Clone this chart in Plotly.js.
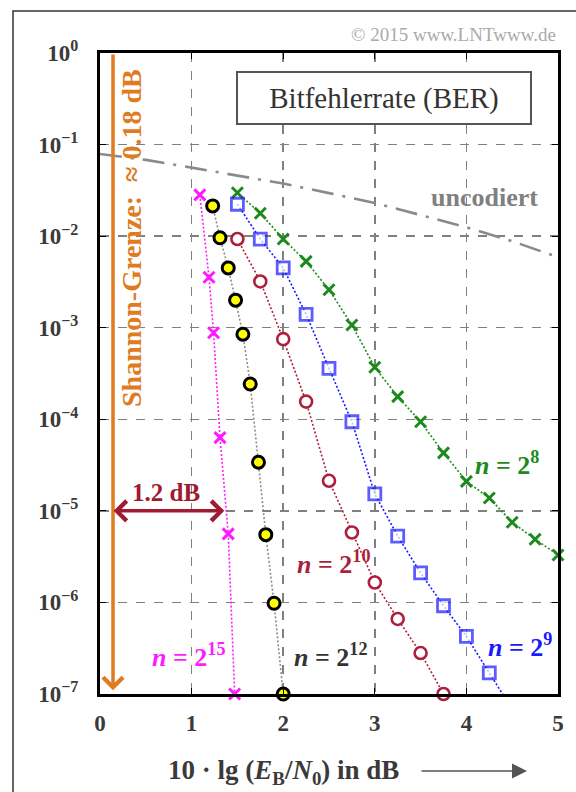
<!DOCTYPE html>
<html>
<head>
<meta charset="utf-8">
<script src="https://cdn.plot.ly/plotly-3.0.1.min.js"></script>
<style>
html,body{margin:0;padding:0;background:#fff;}
#chart{width:576px;height:792px;}
</style>
</head>
<body>
<div id="chart"></div>
<script>
// ---- Data ----
const uncodedX = [0, 0.5, 1, 1.5, 2, 2.5, 3, 3.5, 4, 4.5, 5];
const uncodedBER = [7.9e-2, 6.8e-2, 5.6e-2, 4.6e-2, 3.75e-2, 2.95e-2, 2.3e-2, 1.7e-2, 1.25e-2, 8.8e-3, 5.9e-3];

const n8X = [1.5, 1.75, 2.0, 2.25, 2.5, 2.75, 3.0, 3.25, 3.5, 3.75, 4.0, 4.25, 4.5, 4.75, 5.0];
const n8BER = [2.98e-2, 1.78e-2, 9.3e-3, 5.3e-3, 2.6e-3, 1.07e-3, 3.7e-4, 1.77e-4, 9.4e-5, 4.3e-5, 2.1e-5, 1.38e-5, 7.5e-6, 4.9e-6, 3.3e-6];

const n9X = [1.5, 1.75, 2.0, 2.25, 2.5, 2.75, 3.0, 3.25, 3.5, 3.75, 4.0, 4.25, 4.5];
const n9BER = [2.23e-2, 9.3e-3, 4.5e-3, 1.4e-3, 3.6e-4, 9.4e-5, 1.53e-5, 5.3e-6, 2.1e-6, 9.2e-7, 4.25e-7, 1.7e-7, 6.8e-8];

const n10X = [1.5, 1.75, 2.0, 2.25, 2.5, 2.75, 3.0, 3.25, 3.5, 3.75];
const n10BER = [9.3e-3, 3.2e-3, 7.5e-4, 1.56e-4, 2.13e-5, 5.8e-6, 1.65e-6, 6.6e-7, 2.8e-7, 1.0e-7];

const n12X = [1.23, 1.31, 1.40, 1.48, 1.56, 1.64, 1.73, 1.81, 1.90, 2.0];
const n12BER = [2.14e-2, 9.6e-3, 4.5e-3, 2.0e-3, 8.5e-4, 2.43e-4, 3.4e-5, 5.5e-6, 9.8e-7, 1.0e-7];

const n15X = [1.09, 1.19, 1.24, 1.31, 1.40, 1.47];
const n15BER = [2.82e-2, 3.56e-3, 8.8e-4, 6.3e-5, 5.6e-6, 1.0e-7];

const xTickVals = [0, 1, 2, 3, 4, 5];
const xTickText = ['0', '1', '2', '3', '4', '5'];
const yTickVals = [1, 1e-1, 1e-2, 1e-3, 1e-4, 1e-5, 1e-6, 1e-7];
const yTickText = ['10<sup>0</sup>', '10<sup>−1</sup>', '10<sup>−2</sup>', '10<sup>−3</sup>',
                   '10<sup>−4</sup>', '10<sup>−5</sup>', '10<sup>−6</sup>', '10<sup>−7</sup>'];

const shannonLimit = 0.142;   // position of the orange limit line (dB)
const gapEnd = 1.357;         // end of the 1.2 dB arrow (dB)

// ---- Layout helpers ----
const L = 100, R = 558, T = 53, B = 694;
function px(x){ return (x - L) / (R - L); }
function py(y){ return (B - y) / (B - T); }

const SERIF = '"Liberation Serif", "Times New Roman", serif';
const cGreen = '#1c8a1c', cBlue = '#1a1aff', cRed = '#ad1f3b', cMag = '#ff1aff', cGray = '#8a8a8a';

const dotLine = (c) => ({color: c, width: 1.6, dash: '2px,2px'});

const traces = [
  {x: uncodedX, y: uncodedBER, mode: 'lines', line: {color: cGray, width: 2.6, dash: '22px,9px,3px,9px'}, hoverinfo: 'skip'},
  {x: n8X, y: n8BER, mode: 'lines+markers', line: dotLine(cGreen),
   marker: {symbol: 'x-thin', size: 11, line: {color: cGreen, width: 3}}, cliponaxis: false},
  {x: n9X, y: n9BER, mode: 'lines+markers', line: dotLine(cBlue),
   marker: {symbol: 'square', size: n9X.map((v, i) => i === n9X.length - 1 ? 0 : 12), color: '#fff', line: {color: cBlue, width: 2.8}}, cliponaxis: false},
  {x: n10X, y: n10BER, mode: 'lines+markers', line: dotLine(cRed),
   marker: {symbol: 'circle', size: 12, color: '#fff', line: {color: cRed, width: 2.6}}, cliponaxis: false},
  {x: n12X, y: n12BER, mode: 'lines+markers', line: dotLine('#8c8c8c'),
   marker: {symbol: 'circle', size: 12, color: '#ffff00', line: {color: '#000', width: 3}}, cliponaxis: false},
  {x: n15X, y: n15BER, mode: 'lines+markers', line: dotLine(cMag),
   marker: {symbol: 'x-thin', size: 11, line: {color: cMag, width: 3}}, cliponaxis: false}
];

const tickFont = {family: SERIF, size: 23, color: '#3a3a3a', weight: 'bold'};

const layout = {
  width: 576, height: 792,
  margin: {l: L, r: 576 - R, t: T, b: 792 - B, pad: 0},
  paper_bgcolor: '#fff', plot_bgcolor: '#fff',
  showlegend: false,
  xaxis: {
    range: [0, 5], tickvals: xTickVals, ticktext: xTickText,
    showgrid: true, gridcolor: '#808080', gridwidth: 1.5, griddash: 'dash',
    zeroline: false, showline: true, linecolor: '#000', linewidth: 3, mirror: 'ticks',
    ticks: 'inside', ticklen: 6, tickwidth: 1, tickcolor: '#000',
    tickfont: tickFont, ticklabelstandoff: 6
  },
  yaxis: {
    type: 'log', range: [-7, 0], tickvals: yTickVals, ticktext: yTickText,
    showgrid: true, gridcolor: '#808080', gridwidth: 1.5, griddash: 'dash',
    zeroline: false, showline: true, linecolor: '#000', linewidth: 3, mirror: 'ticks',
    ticks: 'inside', ticklen: 6, tickwidth: 1, tickcolor: '#000',
    tickfont: tickFont, ticklabelstandoff: 14
  },
  shapes: [
    {type: 'rect', xref: 'paper', yref: 'paper', x0: px(13), x1: px(600), y0: py(820), y1: py(11),
     line: {color: '#333', width: 1.5}, fillcolor: 'rgba(0,0,0,0)', layer: 'below'}
  ],
  annotations: [
    {xref: 'paper', yref: 'paper', x: px(558), y: py(34), xanchor: 'right', yanchor: 'middle', showarrow: false,
     text: '© 2015 www.LNTwww.de', font: {family: SERIF, size: 19, color: '#aaaaaa'}},
    {xref: 'paper', yref: 'paper', x: px(384), y: py(98), xanchor: 'center', yanchor: 'middle', showarrow: false,
     text: 'Bitfehlerrate (BER)', font: {family: SERIF, size: 29, color: '#333'},
     bgcolor: '#fff', bordercolor: '#555', borderwidth: 2, borderpad: 2, width: 288, height: 46},
    // Shannon limit arrow
    {xref: 'x', yref: 'y', x: shannonLimit, y: -6.96, axref: 'x', ayref: 'y', ax: shannonLimit, ay: 0,
     text: '', showarrow: true, arrowhead: 4, arrowsize: 1.1, arrowwidth: 3.5, arrowcolor: '#e07b1f', standoff: 0},
    {xref: 'paper', yref: 'paper', x: px(131), y: py(238), xanchor: 'center', yanchor: 'middle', showarrow: false,
     textangle: -90, text: 'Shannon-Grenze:  ≈ 0.18 dB', font: {family: SERIF, size: 28, color: '#e07b1f', weight: 'bold'}},
    // 1.2 dB gap arrow
    {xref: 'x', yref: 'y', x: gapEnd, y: -5, axref: 'x', ayref: 'y', ax: shannonLimit - 0.01, ay: -5,
     text: '', showarrow: true, arrowside: 'end+start', arrowhead: 4, startarrowhead: 4,
     arrowsize: 1.1, startarrowsize: 1.1, arrowwidth: 3.5, arrowcolor: '#a01a32', standoff: 0, startstandoff: 0},
    {xref: 'paper', yref: 'paper', x: px(166), y: py(492), xanchor: 'center', yanchor: 'middle', showarrow: false,
     text: '1.2 dB', font: {family: SERIF, size: 25, color: '#a01a32', weight: 'bold'}},
    // labels
    {xref: 'paper', yref: 'paper', x: px(484), y: py(198), xanchor: 'center', yanchor: 'middle', showarrow: false,
     text: 'uncodiert', font: {family: SERIF, size: 26, color: '#808080', weight: 'bold'}},
    {xref: 'paper', yref: 'paper', x: px(507), y: py(463), xanchor: 'center', yanchor: 'middle', showarrow: false,
     text: '<i>n</i> = 2<sup>8</sup>', font: {family: SERIF, size: 26, color: cGreen, weight: 'bold'}},
    {xref: 'paper', yref: 'paper', x: px(520), y: py(645), xanchor: 'center', yanchor: 'middle', showarrow: false,
     text: '<i>n</i> = 2<sup>9</sup>', font: {family: SERIF, size: 26, color: cBlue, weight: 'bold'}},
    {xref: 'paper', yref: 'paper', x: px(333), y: py(562), xanchor: 'center', yanchor: 'middle', showarrow: false,
     text: '<i>n</i> = 2<sup>10</sup>', font: {family: SERIF, size: 26, color: cRed, weight: 'bold'}},
    {xref: 'paper', yref: 'paper', x: px(330), y: py(655), xanchor: 'center', yanchor: 'middle', showarrow: false,
     text: '<i>n</i> = 2<sup>12</sup>', font: {family: SERIF, size: 26, color: '#333', weight: 'bold'}},
    {xref: 'paper', yref: 'paper', x: px(188), y: py(655), xanchor: 'center', yanchor: 'middle', showarrow: false,
     text: '<i>n</i> = 2<sup>15</sup>', font: {family: SERIF, size: 26, color: cMag, weight: 'bold'}},
    // x-axis title
    {xref: 'paper', yref: 'paper', x: px(283), y: py(772), xanchor: 'center', yanchor: 'middle', showarrow: false,
     text: '10 · lg (<i>E</i><sub>B</sub>/<i>N</i><sub>0</sub>) in dB', font: {family: SERIF, size: 27, color: '#3a3a3a', weight: 'bold'}},
    {xref: 'paper', yref: 'paper', x: px(527), y: py(771), axref: 'paper', ayref: 'paper', ax: px(420), ay: py(771),
     text: '', showarrow: true, arrowhead: 2, arrowsize: 2, arrowwidth: 1.5, arrowcolor: '#555', standoff: 0}
  ]
};

Plotly.newPlot('chart', traces, layout, {displayModeBar: false, staticPlot: true});
</script>
</body>
</html>
